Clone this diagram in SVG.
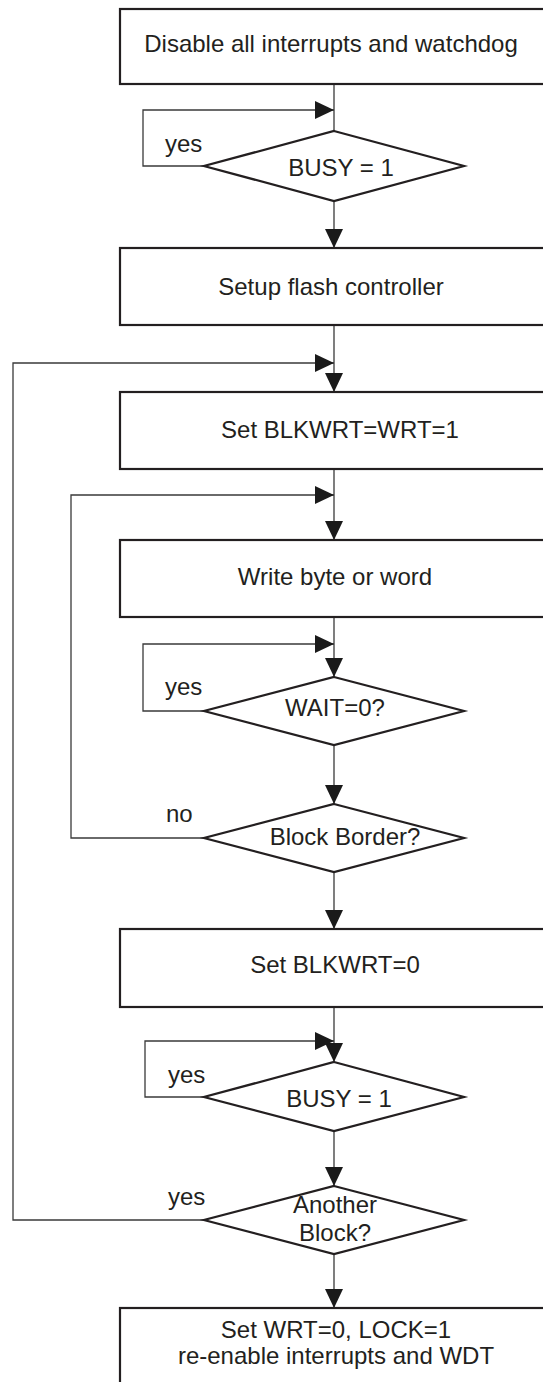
<svg xmlns="http://www.w3.org/2000/svg" width="543" height="1382" viewBox="0 0 543 1382">
<style>
.box{fill:#fff;stroke:#231f20;stroke-width:2.2}
.dec{fill:#fff;stroke:#231f20;stroke-width:2.2}
.t{font-family:"Liberation Sans",Arial,sans-serif;font-size:24px;fill:#231f20;text-anchor:middle}
.lbl{font-family:"Liberation Sans",Arial,sans-serif;font-size:24px;fill:#231f20}
.c{fill:none;stroke:#3a3a3a;stroke-width:1.3}
.a{marker-end:url(#ah)}
</style>
<defs>
<marker id="ah" viewBox="0 0 19 18" markerWidth="19" markerHeight="18" markerUnits="userSpaceOnUse" refX="19" refY="9" orient="auto">
<path d="M0,0 L19,9 L0,18 z" fill="#1a1a1a"/>
</marker>
</defs>
<rect width="543" height="1382" fill="#fff"/>
<g id="connectors">
<path class="c" d="M334,84 V131"/>
<path class="c a" d="M204,166 H143 V110 H334"/>
<path class="c a" d="M334,201 V248"/>
<path class="c a" d="M334,325 V392"/>
<path class="c a" d="M206,1220 H13 V363 H334"/>
<path class="c a" d="M334,469 V540"/>
<path class="c a" d="M204,838 H71 V495 H334"/>
<path class="c a" d="M334,617 V677"/>
<path class="c a" d="M204,711 H143 V644 H334"/>
<path class="c a" d="M334,745 V804"/>
<path class="c a" d="M334,872 V929"/>
<path class="c a" d="M334,1007 V1062"/>
<path class="c a" d="M204,1097 H145 V1041 H334"/>
<path class="c a" d="M334,1131 V1186"/>
<path class="c a" d="M334,1254 V1308"/>
</g>
<g id="n-disable"><rect class="box" x="120" y="9" width="480" height="75"/><text class="t" x="331" y="52">Disable all interrupts and watchdog</text></g>
<g id="n-busy1"><polygon class="dec" points="334,131 464,166 334,201 204,166"/><text class="t" x="341" y="176">BUSY = 1</text></g>
<g id="n-setup"><rect class="box" x="120" y="248" width="480" height="77"/><text class="t" x="331" y="295">Setup flash controller</text></g>
<g id="n-blkwrt1"><rect class="box" x="120" y="392" width="480" height="77"/><text class="t" x="340" y="438">Set BLKWRT=WRT=1</text></g>
<g id="n-write"><rect class="box" x="120" y="540" width="480" height="77"/><text class="t" x="335" y="585">Write byte or word</text></g>
<g id="n-wait"><polygon class="dec" points="334,677 464,711 334,745 204,711"/><text class="t" x="335" y="716">WAIT=0?</text></g>
<g id="n-border"><polygon class="dec" points="334,804 464,838 334,872 204,838"/><text class="t" x="345" y="845">Block Border?</text></g>
<g id="n-blkwrt0"><rect class="box" x="120" y="929" width="480" height="78"/><text class="t" x="335" y="973">Set BLKWRT=0</text></g>
<g id="n-busy2"><polygon class="dec" points="334,1062 464,1097 334,1131 204,1097"/><text class="t" x="339" y="1107">BUSY = 1</text></g>
<g id="n-another"><polygon class="dec" points="334,1186 464,1220 334,1254 204,1220"/><text class="t" x="335" y="1213">Another</text><text class="t" x="335" y="1241">Block?</text></g>
<g id="n-final"><rect class="box" x="120" y="1308" width="480" height="100"/><text class="t" x="336" y="1338">Set WRT=0, LOCK=1</text><text class="t" x="336" y="1364">re-enable interrupts and WDT</text></g>
<g id="labels">
<text class="lbl" x="165" y="152">yes</text>
<text class="lbl" x="165" y="695">yes</text>
<text class="lbl" x="166" y="822">no</text>
<text class="lbl" x="168" y="1083">yes</text>
<text class="lbl" x="168" y="1205">yes</text>
</g>
</svg>
